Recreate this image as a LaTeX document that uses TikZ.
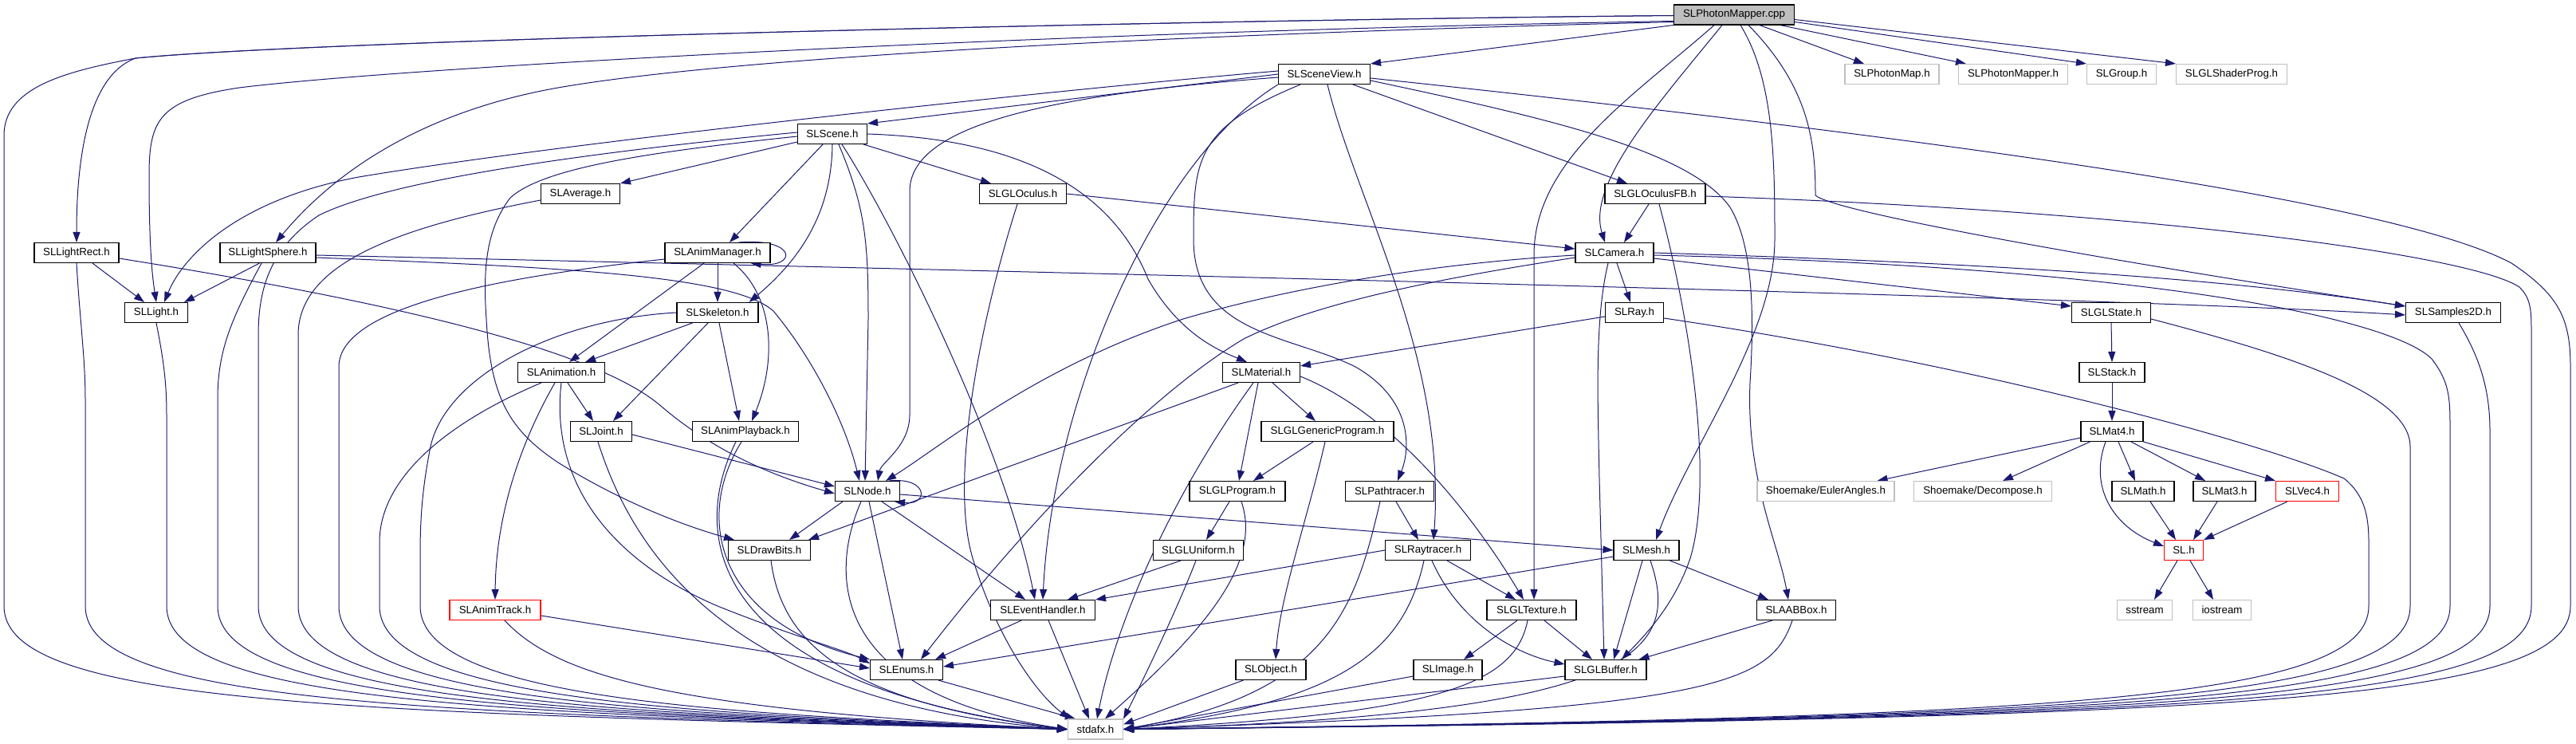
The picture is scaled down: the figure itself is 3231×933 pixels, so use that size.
\documentclass[tikz,border=0pt]{standalone}
\usepackage{fontspec}
\setmainfont{Liberation Sans}
\usetikzlibrary{arrows.meta,calc}
\definecolor{navy}{HTML}{191970}
\definecolor{lgray}{HTML}{BFBFBF}
\pgfdeclarelayer{edges}
\pgfsetlayers{edges,main}
\begin{document}
\begin{tikzpicture}[x=1pt,y=-1pt,
  hdr/.style={draw=black, line width=1.1pt, fill=white, minimum height=25pt, inner sep=0pt, font=\fontsize{13.3}{16}\selectfont},
  ext/.style={hdr, draw=lgray},
  redbox/.style={hdr, draw=red},
  dep/.style={draw=navy, line width=1pt, -{Triangle[length=13pt,width=9pt]}}]
\useasboundingbox (0,0) rectangle (3231,933);
% nodes
\node[hdr, fill=lgray, minimum width=151pt] (PM) at (2175,18.5) {SLPhotonMapper.cpp};
\node[hdr, minimum width=115pt] (SV) at (1661,93) {SLSceneView.h};
\node[ext, minimum width=118pt] (PhotonMap) at (2373,93) {SLPhotonMap.h};
\node[ext, minimum width=137pt] (PhotonMapperH) at (2525,93) {SLPhotonMapper.h};
\node[ext, minimum width=87pt] (Group) at (2661,93) {SLGroup.h};
\node[ext, minimum width=139pt] (ShaderProg) at (2799,93) {SLGLShaderProg.h};
\node[hdr, minimum width=87pt] (Scene) at (1044,168) {SLScene.h};
\node[hdr, minimum width=99pt] (Average) at (728,243) {SLAverage.h};
\node[hdr, minimum width=109pt] (GLOculus) at (1283,243) {SLGLOculus.h};
\node[hdr, minimum width=126pt] (OculusFB) at (2076,243) {SLGLOculusFB.h};
\node[hdr, minimum width=106pt] (LightRect) at (96,317) {SLLightRect.h};
\node[hdr, minimum width=120pt] (LightSphere) at (336,317) {SLLightSphere.h};
\node[hdr, minimum width=132pt] (AnimManager) at (900,317) {SLAnimManager.h};
\node[hdr, minimum width=98pt] (Cam) at (2025,317) {SLCamera.h};
\node[hdr, minimum width=79pt] (Light) at (196,392) {SLLight.h};
\node[hdr, minimum width=102pt] (Skeleton) at (900,392) {SLSkeleton.h};
\node[hdr, minimum width=73pt] (Ray) at (2050,392) {SLRay.h};
\node[hdr, minimum width=99pt] (GLState) at (2648,392) {SLGLState.h};
\node[hdr, minimum width=119pt] (Samples) at (3077,392) {SLSamples2D.h};
\node[hdr, minimum width=109pt] (Animation) at (704,467) {SLAnimation.h};
\node[hdr, minimum width=97pt] (Material) at (1582,467) {SLMaterial.h};
\node[hdr, minimum width=82pt] (Stack) at (2649,467) {SLStack.h};
\node[hdr, minimum width=77pt] (Joint) at (754,541) {SLJoint.h};
\node[hdr, minimum width=133pt] (AnimPlayback) at (935,541) {SLAnimPlayback.h};
\node[hdr, minimum width=166pt] (GLGeneric) at (1665,541) {SLGLGenericProgram.h};
\node[hdr, minimum width=78pt] (Mat4) at (2649,541) {SLMat4.h};
\node[hdr, minimum width=81pt] (Node) at (1088,616) {SLNode.h};
\node[hdr, minimum width=120pt] (GLProgram) at (1552,616) {SLGLProgram.h};
\node[hdr, minimum width=111pt] (Pathtracer) at (1743,616) {SLPathtracer.h};
\node[ext, minimum width=172pt] (Euler) at (2290,616) {Shoemake/EulerAngles.h};
\node[ext, minimum width=173pt] (Decompose) at (2487,616) {Shoemake/Decompose.h};
\node[hdr, minimum width=78pt] (Math) at (2688,616) {SLMath.h};
\node[hdr, minimum width=78pt] (Mat3) at (2790,616) {SLMat3.h};
\node[redbox, minimum width=79pt] (Vec4) at (2894,616) {SLVec4.h};
\node[hdr, minimum width=103pt] (DrawBits) at (965,690) {SLDrawBits.h};
\node[hdr, minimum width=113pt] (GLUniform) at (1503,690) {SLGLUniform.h};
\node[hdr, minimum width=107pt] (Raytracer) at (1791,690) {SLRaytracer.h};
\node[hdr, minimum width=82pt] (Mesh) at (2065,690) {SLMesh.h};
\node[redbox, minimum width=49pt] (SL) at (2739,690) {SL.h};
\node[redbox, minimum width=114pt] (AnimTrack) at (621,765) {SLAnimTrack.h};
\node[hdr, minimum width=131pt] (EH) at (1308,765) {SLEventHandler.h};
\node[hdr, minimum width=112pt] (GLTexture) at (1921,765) {SLGLTexture.h};
\node[hdr, minimum width=99pt] (AABB) at (2253,765) {SLAABBox.h};
\node[ext, minimum width=69pt] (sstream) at (2690,765) {sstream};
\node[ext, minimum width=73pt] (iostream) at (2787,765) {iostream};
\node[hdr, minimum width=91pt] (Enums) at (1137,840) {SLEnums.h};
\node[hdr, minimum width=88pt] (Object) at (1594,840) {SLObject.h};
\node[hdr, minimum width=86pt] (Image) at (1816,840) {SLImage.h};
\node[hdr, minimum width=102pt] (GLBuffer) at (2014,840) {SLGLBuffer.h};
\node[ext, minimum width=69pt] (sd) at (1374,914.5) {stdafx.h};
\begin{pgfonlayer}{edges}
% PhotonMapper.cpp
\draw[dep] ($(PM.west)+(0,1)$) .. controls (1500,25) and (400,50) .. (170,73) .. controls (80,90) and (5,110) .. (5,170) -- (5,760) .. controls (5,880) and (405,895) .. (sd.west);
\draw[dep] ($(PM.west)+(0,1)$) .. controls (1500,25) and (400,50) .. (170,73) .. controls (110,95) and (96,200) .. (LightRect.north);
\draw[dep] ($(PM.west)+(0,8)$) .. controls (1300,40) and (500,85) .. (300,110) .. controls (200,125) and (187,150) .. (187,220) .. controls (187,300) and (190,340) .. (Light.north);
\draw[dep] ($(PM.west)+(0,9)$) .. controls (1400,45) and (900,75) .. (700,110) .. controls (530,140) and (420,215) .. ($(LightSphere.north)+(10,0)$);
\draw[dep] (PM.south west) -- (SV.north east);
\draw[dep] ($(PM.south)+(-15,0)$) .. controls (2080,130) and (1990,230) .. ($(Cam.north)+(-12,0)$);
\draw[dep] ($(PM.south)+(-25,0)$) .. controls (2050,120) and (1924,200) .. (1924,320) -- ($(GLTexture.north)+(3,0)$);
\draw[dep] ($(PM.south)+(8,0)$) .. controls (2225,100) and (2226,200) .. (2226,300) .. controls (2226,420) and (2120,560) .. ($(Mesh.north)+(12,0)$);
\draw[dep] ($(PM.south)+(18,0)$) .. controls (2270,110) and (2277,180) .. (2277,245) .. controls (2300,265) and (2600,320) .. ($(Samples.west)+(0,-8)$);
\draw[dep] ($(PM.south)+(32,0)$) -- ($(PhotonMap.north)+(-35,0)$);
\draw[dep] ($(PM.south)+(58,0)$) -- ($(PhotonMapperH.north west)+(10,0)$);
\draw[dep] ($(PM.east)+(0,9)$) -- (Group.north west);
\draw[dep] ($(PM.east)+(0,6)$) -- (ShaderProg.north west);
% SceneView
\draw[dep] (SV.west) -- (Scene.north east);
\draw[dep] ($(SV.west)+(0,-4)$) .. controls (1300,115) and (700,180) .. (450,222) .. controls (300,250) and (230,320) .. ($(Light.north)+(10,0)$);
\draw[dep] ($(SV.west)+(0,4)$) .. controls (1300,120) and (1141,160) .. (1141,240) -- (1141,520) .. controls (1141,560) and (1105,580) .. ($(Node.north)+(13,0)$);
\draw[dep] (SV.south west) .. controls (1450,200) and (1320,500) .. (EH.north);
\draw[dep] ($(SV.south)+(-30,0)$) .. controls (1500,160) and (1497,200) .. (1497,300) .. controls (1497,420) and (1620,420) .. (1700,460) .. controls (1770,500) and (1770,560) .. ($(Pathtracer.north)+(10,0)$);
\draw[dep] ($(SV.south)+(4,0)$) .. controls (1700,250) and (1815,450) .. ($(Raytracer.north)+(7,0)$);
\draw[dep] ($(SV.south east)+(-22,0)$) -- ($(OculusFB.north)+(-35,0)$);
\draw[dep] ($(SV.east)+(0,8)$) .. controls (1950,150) and (2120,190) .. (2170,260) .. controls (2200,310) and (2200,400) .. (2195,480) .. controls (2190,600) and (2230,680) .. ($(AABB.north)+(-10,0)$);
\draw[dep] ($(SV.east)+(0,5)$) .. controls (2400,170) and (3000,250) .. (3150,330) .. controls (3210,370) and (3224,400) .. (3224,460) -- (3224,760) .. controls (3224,880) and (2824,900) .. (sd.east);
% Scene
\draw[dep] ($(Scene.west)+(0,10)$) -- (Average.north east);
\draw[dep] ($(Scene.south east)+(-5,0)$) -- ($(GLOculus.north west)+(15,0)$);
\draw[dep] ($(Scene.south)+(-12,0)$) -- ($(AnimManager.north)+(15,0)$);
\draw[dep] (Scene.south) .. controls (1043,260) and (1010,320) .. ($(Skeleton.north east)+(-12,0)$);
\draw[dep] ($(Scene.south)+(8,0)$) .. controls (1085,260) and (1089,300) .. (1089,400) -- ($(Node.north)+(-3,0)$);
\draw[dep] ($(Scene.south)+(12,0)$) .. controls (1120,280) and (1260,560) .. ($(EH.north)+(-10,0)$);
\draw[dep] (Scene.east) .. controls (1300,175) and (1400,250) .. (1440,350) .. controls (1480,420) and (1530,440) .. ($(Material.north)+(-18,0)$);
\draw[dep] ($(Scene.west)+(0,-2)$) .. controls (800,185) and (500,220) .. (400,270) .. controls (340,310) and (324,360) .. (324,420) -- (324,760) .. controls (324,880) and (724,895) .. (sd.west);
\draw[dep] ($(Scene.west)+(0,3)$) .. controls (800,192) and (680,212) .. (640,248) .. controls (612,285) and (605,330) .. (610,400) .. controls (615,500) and (640,540) .. (700,580) .. controls (780,630) and (860,660) .. ($(DrawBits.north west)+(8,0)$);
% left column
\draw[dep] (LightRect.south) .. controls (100,400) and (107,450) .. (107,500) -- (107,760) .. controls (107,880) and (507,895) .. (sd.west);
\draw[dep] ($(LightRect.south)+(20,0)$) -- ($(Light.north)+(-15,0)$);
\draw[dep] ($(LightRect.east)+(0,7)$) .. controls (500,380) and (750,440) .. (830,510) .. controls (900,570) and (980,600) .. ($(Node.west)+(0,3)$);
\draw[dep] (Light.south) .. controls (205,450) and (209,480) .. (209,520) -- (209,760) .. controls (209,880) and (609,895) .. (sd.west);
\draw[dep] ($(LightSphere.south west)+(50,0)$) -- ($(Light.north east)+(-5,0)$);
\draw[dep] ($(LightSphere.south)+(-8,0)$) .. controls (290,400) and (273,440) .. (273,500) -- (273,760) .. controls (273,880) and (673,895) .. (sd.west);
\draw[dep] ($(LightSphere.east)+(0,3)$) .. controls (1500,345) and (2700,375) .. ($(Samples.west)+(0,3)$);
\draw[dep] ($(LightSphere.east)+(0,6)$) .. controls (700,335) and (920,345) .. (970,390) .. controls (1020,450) and (1060,530) .. ($(Node.north)+(-10,0)$);
\draw[dep] ($(Average.west)+(0,8)$) .. controls (500,285) and (374,330) .. (374,420) -- (374,760) .. controls (374,880) and (774,895) .. (sd.west);
% AnimManager
\draw[dep] ($(AnimManager.north east)+(-40,0)$) .. controls (1000,298) and (1000,336) .. ($(AnimManager.south east)+(-25,0)$);
\draw[dep] (AnimManager.south) -- (Skeleton.north);
\draw[dep] ($(AnimManager.south)+(-17,0)$) -- ($(Animation.north)+(10,0)$);
\draw[dep] ($(AnimManager.south)+(20,0)$) .. controls (970,370) and (975,450) .. ($(AnimPlayback.north)+(8,0)$);
\draw[dep] ($(AnimManager.west)+(0,8)$) .. controls (650,345) and (425,380) .. (425,460) -- (425,760) .. controls (425,880) and (825,895) .. (sd.west);
% Skeleton
\draw[dep] ($(Skeleton.south west)+(20,0)$) -- ($(Animation.north east)+(-25,0)$);
\draw[dep] ($(Skeleton.south)+(-12,0)$) -- ($(Joint.north)+(15,0)$);
\draw[dep] ($(Skeleton.south)+(2,0)$) -- ($(AnimPlayback.north)+(-8,0)$);
\draw[dep] (Skeleton.west) .. controls (700,400) and (560,470) .. (540,560) .. controls (528,620) and (527,660) .. (527,700) -- (527,760) .. controls (527,880) and (927,895) .. (sd.west);
% Animation
\draw[dep] ($(Animation.south)+(8,0)$) -- ($(Joint.north)+(-10,0)$);
\draw[dep] ($(Animation.south)+(-8,0)$) .. controls (650,560) and (622,650) .. (AnimTrack.north);
\draw[dep] (Animation.south) .. controls (690,600) and (760,700) .. (900,760) .. controls (1000,800) and (1060,815) .. ($(Enums.west)+(0,-8)$);
\draw[dep] ($(Animation.south)+(-25,0)$) .. controls (560,530) and (476,600) .. (476,680) -- (476,760) .. controls (476,880) and (876,895) .. (sd.west);
% Joint
\draw[dep] ($(Joint.east)+(0,4)$) -- ($(Node.west)+(0,-6)$);
\draw[dep] ($(Joint.south)+(-4,0)$) .. controls (790,680) and (900,880) .. (sd.west);
% AnimTrack
\draw[dep] ($(AnimTrack.east)+(0,7)$) -- ($(Enums.west)+(0,-2)$);
\draw[dep] ($(AnimTrack.south)+(12,0)$) .. controls (700,850) and (850,890) .. (sd.west);
% AnimPlayback
\draw[dep] ($(AnimPlayback.south)+(-5,0)$) .. controls (870,650) and (900,780) .. (Enums.north west);
\draw[dep] ($(AnimPlayback.south)+(-12,0)$) .. controls (860,680) and (900,860) .. (sd.west);
% Node
\draw[dep] ($(Node.north east)+(-14,0)$) .. controls (1165,598) and (1165,634) .. ($(Node.south east)+(-7,0)$);
\draw[dep] ($(Node.south west)+(10,0)$) -- ($(DrawBits.north)+(25,0)$);
\draw[dep] ($(Node.south)+(2,0)$) -- ($(Enums.north)+(-5,0)$);
\draw[dep] ($(Node.south)+(18,0)$) -- ($(EH.north)+(-22,0)$);
\draw[dep] ($(Node.east)+(0,4)$) -- (Mesh.west);
\draw[dep] ($(Node.south)+(-8,0)$) .. controls (1040,720) and (1040,870) .. (sd.west);
% DrawBits, EventHandler, Enums
\draw[dep] ($(DrawBits.south)+(2,0)$) .. controls (980,800) and (1050,880) .. (sd.west);
\draw[dep] ($(EH.south)+(-27,0)$) -- ($(Enums.north east)+(-10,0)$);
\draw[dep] ($(EH.south)+(7,0)$) -- ($(sd.north)+(-8,0)$);
\draw[dep] ($(Enums.south)+(40,0)$) -- ($(sd.north west)+(10,0)$);
% GLOculus
\draw[dep] (GLOculus.east) -- ($(Cam.west)+(0,-5)$);
\draw[dep] ($(GLOculus.south)+(-7,0)$) .. controls (1230,400) and (1190,600) .. (1220,700) .. controls (1250,800) and (1300,870) .. ($(sd.north west)+(3,0)$);
% OculusFB
\draw[dep] ($(OculusFB.south)+(-8,0)$) -- ($(Cam.north)+(12,0)$);
\draw[dep] ($(OculusFB.south)+(5,0)$) .. controls (2120,400) and (2150,600) .. (2120,700) .. controls (2100,760) and (2060,800) .. ($(GLBuffer.north)+(20,0)$);
\draw[dep] ($(OculusFB.east)+(0,3)$) .. controls (2700,265) and (3100,320) .. (3160,360) .. controls (3175,375) and (3175,390) .. (3175,420) -- (3175,760) .. controls (3175,880) and (2775,900) .. (sd.east);
% Camera
\draw[dep] ($(Cam.south)+(3,0)$) -- ($(Ray.north)+(-5,0)$);
\draw[dep] ($(Cam.south)+(-8,0)$) .. controls (2000,400) and (2004,500) .. (2006,600) -- ($(GLBuffer.north)+(-2,0)$);
\draw[dep] ($(Cam.west)+(0,3)$) .. controls (1800,330) and (1620,360) .. (1484,400) .. controls (1300,460) and (1180,560) .. ($(Node.north east)+(-18,0)$);
\draw[dep] ($(Cam.west)+(0,6)$) .. controls (1800,350) and (1650,380) .. (1560,425) .. controls (1450,490) and (1300,640) .. ($(Enums.north)+(18,0)$);
\draw[dep] ($(Cam.east)+(0,7)$) -- ($(GLState.west)+(0,-8)$);
\draw[dep] (Cam.east) .. controls (2500,330) and (2800,350) .. ($(Samples.west)+(0,-8)$);
\draw[dep] ($(Cam.east)+(0,3)$) .. controls (2700,335) and (3000,400) .. (3050,450) .. controls (3073,480) and (3073,500) .. (3073,540) -- (3073,760) .. controls (3073,880) and (2673,900) .. (sd.east);
% Ray
\draw[dep] ($(Ray.west)+(0,5)$) -- ($(Material.north east)+(0,5)$);
\draw[dep] ($(Ray.east)+(0,7)$) .. controls (2500,460) and (2850,560) .. (2940,600) .. controls (2965,620) and (2971,645) .. (2971,680) -- (2971,760) .. controls (2971,880) and (2571,900) .. (sd.east);
% GLState, Samples, Stack, Mat4
\draw[dep] (GLState.south) -- (Stack.north);
\draw[dep] ($(GLState.east)+(0,8)$) .. controls (2850,440) and (3023,490) .. (3023,560) -- (3023,760) .. controls (3023,880) and (2623,900) .. (sd.east);
\draw[dep] ($(Samples.south)+(7,0)$) .. controls (3105,440) and (3123,480) .. (3123,540) -- (3123,760) .. controls (3123,880) and (2723,900) .. (sd.east);
\draw[dep] (Stack.south) -- (Mat4.north);
\draw[dep] ($(Mat4.west)+(0,8)$) -- ($(Euler.north east)+(-22,0)$);
\draw[dep] ($(Mat4.south west)+(12,0)$) -- ($(Decompose.north)+(25,0)$);
\draw[dep] ($(Mat4.south)+(-8,0)$) .. controls (2620,610) and (2650,660) .. ($(SL.west)+(0,-5)$);
\draw[dep] ($(Mat4.south)+(8,0)$) -- ($(Math.north)+(-10,0)$);
\draw[dep] ($(Mat4.south)+(24,0)$) -- ($(Mat3.north)+(-24,0)$);
\draw[dep] (Mat4.south east) -- (Vec4.north west);
\draw[dep] ($(Math.south)+(9,0)$) -- ($(SL.north)+(-10,0)$);
\draw[dep] ($(Mat3.south)+(-9,0)$) -- ($(SL.north)+(12,0)$);
\draw[dep] ($(Vec4.south)+(-25,0)$) -- (SL.north east);
\draw[dep] ($(SL.south)+(-8,0)$) -- ($(sstream.north)+(12,0)$);
\draw[dep] ($(SL.south)+(8,0)$) -- ($(iostream.north)+(-11,0)$);
% Material
\draw[dep] ($(Material.south)+(14,0)$) -- ($(GLGeneric.north)+(-15,0)$);
\draw[dep] ($(Material.south)+(-4,0)$) -- ($(GLProgram.north)+(2,0)$);
\draw[dep] ($(Material.south west)+(20,0)$) -- ($(DrawBits.north east)+(-3,0)$);
\draw[dep] ($(Material.east)+(0,5)$) .. controls (1750,520) and (1850,650) .. ($(GLTexture.north)+(-10,0)$);
\draw[dep] ($(Material.south)+(-10,0)$) .. controls (1470,620) and (1400,780) .. ($(sd.north)+(2,0)$);
% GLGeneric, GLProgram, GLUniform, Object
\draw[dep] ($(GLGeneric.south)+(-18,0)$) -- ($(GLProgram.north)+(20,0)$);
\draw[dep] ($(GLGeneric.south)+(-3,0)$) .. controls (1640,650) and (1605,750) .. ($(Object.north)+(6,0)$);
\draw[dep] ($(GLProgram.south)+(-10,0)$) -- ($(GLUniform.north)+(10,0)$);
\draw[dep] ($(GLProgram.south)+(5,0)$) .. controls (1585,710) and (1500,800) .. ($(sd.north)+(12,0)$);
\draw[dep] ($(GLUniform.south west)+(35,0)$) -- ($(EH.north east)+(-35,0)$);
\draw[dep] ($(GLUniform.south)+(-3,0)$) .. controls (1470,780) and (1420,880) .. (sd.north east);
\draw[dep] ($(Object.south west)+(10,0)$) -- ($(sd.east)+(0,-6)$);
% Pathtracer, Raytracer
\draw[dep] ($(Pathtracer.south)+(8,0)$) -- ($(Raytracer.north)+(-12,0)$);
\draw[dep] ($(Pathtracer.south)+(-12,0)$) .. controls (1700,760) and (1670,870) .. (sd.east);
\draw[dep] (Raytracer.west) -- (EH.north east);
\draw[dep] ($(Raytracer.south east)+(-30,0)$) -- ($(GLTexture.north)+(-20,0)$);
\draw[dep] ($(Raytracer.south)+(5,0)$) .. controls (1830,780) and (1900,820) .. ($(GLBuffer.west)+(0,-7)$);
\draw[dep] ($(Raytracer.south)+(-5,0)$) .. controls (1760,820) and (1680,880) .. (sd.east);
% Mesh, AABB, GLTexture, Image, GLBuffer
\draw[dep] ($(Mesh.west)+(0,8)$) -- ($(Enums.east)+(0,-4)$);
\draw[dep] ($(Mesh.south)+(-5,0)$) -- ($(GLBuffer.north)+(10,0)$);
\draw[dep] ($(Mesh.south east)+(-12,0)$) -- ($(AABB.north west)+(15,0)$);
\draw[dep] ($(Mesh.south)+(5,0)$) .. controls (2110,820) and (2050,895) .. (sd.east);
\draw[dep] ($(AABB.south west)+(20,0)$) -- ($(GLBuffer.north east)+(-10,0)$);
\draw[dep] ($(AABB.south)+(-5,0)$) .. controls (2220,860) and (2150,890) .. (sd.east);
\draw[dep] ($(GLTexture.south)+(-18,0)$) -- ($(Image.north)+(20,0)$);
\draw[dep] ($(GLTexture.south)+(16,0)$) -- ($(GLBuffer.north)+(-17,0)$);
\draw[dep] ($(GLTexture.south)+(-5,0)$) .. controls (1900,860) and (1800,895) .. (sd.east);
\draw[dep] ($(Image.west)+(0,8)$) -- (sd.east);
\draw[dep] ($(GLBuffer.west)+(0,8)$) -- (sd.east);
\end{pgfonlayer}
\end{tikzpicture}
\end{document}
